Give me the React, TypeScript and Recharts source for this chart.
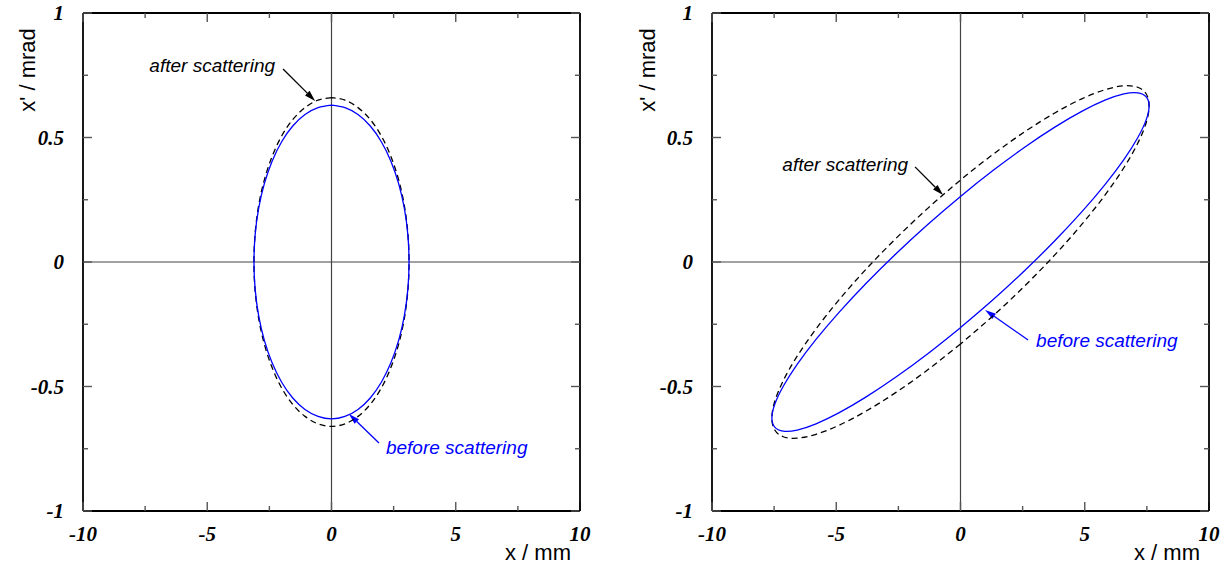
import React from "react";
import { ScatterChart, Scatter, XAxis, YAxis, ReferenceLine } from "recharts";

// axis ticks
const xTicks = [-10, -7.5, -5, -2.5, 0, 2.5, 5, 7.5, 10];
const yTicks = [-1, -0.75, -0.5, -0.25, 0, 0.25, 0.5, 0.75, 1];
const xLabels = [-10, -5, 0, 5, 10];
const yLabels = [-1, -0.5, 0, 0.5, 1];

// left panel: upright ellipse (x in mm, x' in mrad)
const leftX = [
  0, -0.542, -1.067, -1.56, -2.006, -2.39, -2.702, -2.932, -3.073, -3.12, -3.073, -2.932, -2.702,
  -2.39, -2.006, -1.56, -1.067, -0.542, 0, 0.542, 1.067, 1.56, 2.006, 2.39, 2.702, 2.932, 3.073,
  3.12, 3.073, 2.932, 2.702, 2.39, 2.006, 1.56, 1.067, 0.542, 0,
];
const leftBeforeY = [
  0.63, 0.62, 0.592, 0.546, 0.483, 0.405, 0.315, 0.215, 0.109, 0, -0.109, -0.215, -0.315, -0.405,
  -0.483, -0.546, -0.592, -0.62, -0.63, -0.62, -0.592, -0.546, -0.483, -0.405, -0.315, -0.215,
  -0.109, 0, 0.109, 0.215, 0.315, 0.405, 0.483, 0.546, 0.592, 0.62, 0.63,
];
const leftAfterY = [
  0.66, 0.65, 0.62, 0.572, 0.506, 0.424, 0.33, 0.226, 0.115, 0, -0.115, -0.226, -0.33, -0.424,
  -0.506, -0.572, -0.62, -0.65, -0.66, -0.65, -0.62, -0.572, -0.506, -0.424, -0.33, -0.226,
  -0.115, 0, 0.115, 0.226, 0.33, 0.424, 0.506, 0.572, 0.62, 0.65, 0.66,
];

// right panel: tilted ellipse
const rightX = [
  0, -1.318, -2.596, -3.795, -4.879, -5.814, -6.573, -7.132, -7.475, -7.59, -7.475, -7.132,
  -6.573, -5.814, -4.879, -3.795, -2.596, -1.318, 0, 1.318, 2.596, 3.795, 4.879, 5.814, 6.573,
  7.132, 7.475, 7.59, 7.475, 7.132, 6.573, 5.814, 4.879, 3.795, 2.596, 1.318, 0,
];
const rightBeforeY = [
  -0.2635, -0.3683, -0.462, -0.5417, -0.6048, -0.6497, -0.6748, -0.6793, -0.6632, -0.627,
  -0.5717, -0.4991, -0.4113, -0.3109, -0.2012, -0.0853, 0.0332, 0.1507, 0.2635, 0.3683, 0.462,
  0.5417, 0.6048, 0.6497, 0.6748, 0.6793, 0.6632, 0.627, 0.5717, 0.4991, 0.4113, 0.3109, 0.2012,
  0.0853, -0.0332, -0.1507, -0.2635,
];
const rightAfterY = [
  -0.3292, -0.433, -0.5237, -0.5986, -0.6552, -0.6919, -0.7076, -0.7018, -0.6746, -0.627,
  -0.5604, -0.4766, -0.3784, -0.2687, -0.1508, -0.0284, 0.0949, 0.2154, 0.3292, 0.433, 0.5237,
  0.5986, 0.6552, 0.6919, 0.7076, 0.7018, 0.6746, 0.627, 0.5604, 0.4766, 0.3784, 0.2687, 0.1508,
  0.0284, -0.0949, -0.2154, -0.3292,
];

type Note = {
  from: { x: number; y: number };
  to: { x: number; y: number };
  text: string;
  color: string;
  anchor: "start" | "end";
  dx: number;
  dy: number;
};

const leftNotes: Note[] = [
  { from: { x: -1.95, y: 0.775 }, to: { x: -0.66, y: 0.647 }, text: "after scattering", color: "#000", anchor: "end", dx: -8, dy: 3 },
  { from: { x: 1.91, y: -0.727 }, to: { x: 0.7, y: -0.61 }, text: "before scattering", color: "#0000ff", anchor: "start", dx: 7, dy: 11 },
];
const rightNotes: Note[] = [
  { from: { x: -1.83, y: 0.382 }, to: { x: -0.7, y: 0.269 }, text: "after scattering", color: "#000", anchor: "end", dx: -7, dy: 4 },
  { from: { x: 2.72, y: -0.313 }, to: { x: 0.99, y: -0.193 }, text: "before scattering", color: "#0000ff", anchor: "start", dx: 8, dy: 7 },
];

const toPoints = (xs: number[], ys: number[]) => xs.map((x, i) => ({ x, y: ys[i] }));

const CHART_W = 614;
const CHART_H = 569;
const Y_AXIS_W = 60;
const X_AXIS_H = 40;

const tickFont: React.CSSProperties = {
  fontFamily: '"Liberation Serif", "Times New Roman", serif',
  fontWeight: 700,
  fontStyle: "italic",
  fontSize: 21,
};
const sansFont = '"Liberation Sans", Arial, Helvetica, sans-serif';
const tickColor = "#555";
const frameStroke = { stroke: "#000", strokeWidth: 1.8 };

// bottom ticks also mirror themselves on the top edge; the first one draws the top frame line
const makeBottomTick = (plotW: number, plotH: number) => (p: any) => {
  const major = xLabels.includes(p.payload.value);
  const len = major ? 9 : 5;
  const top = p.y - plotH;
  return (
    <g>
      <line x1={p.x} y1={p.y} x2={p.x} y2={p.y - len} stroke={tickColor} strokeWidth={1.4} />
      <line x1={p.x} y1={top} x2={p.x} y2={top + len} stroke={tickColor} strokeWidth={1.4} />
      {p.index === 0 && <line x1={p.x} y1={top} x2={p.x + plotW} y2={top} {...frameStroke} />}
      {major && (
        <text x={p.x} y={p.y + 30} textAnchor="middle" fill="#000" style={tickFont}>
          {p.payload.value}
        </text>
      )}
    </g>
  );
};

// left ticks also mirror themselves on the right edge; the first one draws the right frame line
const makeLeftTick = (plotW: number, plotH: number) => (p: any) => {
  const major = yLabels.includes(p.payload.value);
  const len = major ? 9 : 5;
  const right = p.x + plotW;
  return (
    <g>
      <line x1={p.x} y1={p.y} x2={p.x + len} y2={p.y} stroke={tickColor} strokeWidth={1.4} />
      <line x1={right} y1={p.y} x2={right - len} y2={p.y} stroke={tickColor} strokeWidth={1.4} />
      {p.index === 0 && <line x1={right} y1={p.y} x2={right} y2={p.y - plotH} {...frameStroke} />}
      {major && (
        <text x={p.x - 19} y={p.y + 7} textAnchor="end" fill="#000" style={tickFont}>
          {p.payload.value}
        </text>
      )}
    </g>
  );
};

const arrowShape = (n: Note) => (p: any) => {
  const { x1, y1, x2, y2 } = p;
  const a = Math.atan2(y2 - y1, x2 - x1);
  const L = 11;
  const W = 3.2;
  const bx = x2 - L * Math.cos(a);
  const by = y2 - L * Math.sin(a);
  const px = -Math.sin(a) * W;
  const py = Math.cos(a) * W;
  return (
    <g>
      <line x1={x1} y1={y1} x2={bx} y2={by} stroke={n.color} strokeWidth={1.3} />
      <polygon points={`${x2},${y2} ${bx + px},${by + py} ${bx - px},${by - py}`} fill={n.color} />
      <text x={x1 + n.dx} y={y1 + n.dy} textAnchor={n.anchor} fill={n.color}
        style={{ fontFamily: sansFont, fontStyle: "italic", fontSize: 19 }}>
        {n.text}
      </text>
    </g>
  );
};

type PanelProps = {
  before: { x: number; y: number }[];
  after: { x: number; y: number }[];
  notes: Note[];
  margin: { top: number; right: number; bottom: number; left: number };
  yTitleDx: number;
};

const Panel: React.FC<PanelProps> = ({ before, after, notes, margin, yTitleDx }) => {
  const plotW = CHART_W - margin.left - margin.right - Y_AXIS_W;
  const plotH = CHART_H - margin.top - margin.bottom - X_AXIS_H;
  return (
    <ScatterChart width={CHART_W} height={CHART_H} margin={margin}>
      <XAxis type="number" dataKey="x" domain={[-10, 10]} ticks={xTicks} interval={0}
        tickSize={0} tickMargin={0} tickLine={false} tick={makeBottomTick(plotW, plotH)}
        axisLine={frameStroke} height={X_AXIS_H} allowDataOverflow
        label={{
          content: (lp: any) => {
            const vb = lp.viewBox;
            return (
              <text x={vb.x + vb.width - 9} y={vb.y + 49} textAnchor="end" fill="#000"
                style={{ fontFamily: sansFont, fontSize: 22 }}>
                x / mm
              </text>
            );
          },
        }}
      />
      <YAxis type="number" dataKey="y" domain={[-1, 1]} ticks={yTicks} interval={0} tickSize={0}
        tickMargin={0} tickLine={false} tick={makeLeftTick(plotW, plotH)} axisLine={frameStroke}
        width={Y_AXIS_W} allowDataOverflow
        label={{
          content: (lp: any) => {
            const vb = lp.viewBox;
            const cx = vb.x + vb.width + yTitleDx;
            const cy = vb.y + 57;
            return (
              <text x={cx} y={cy} textAnchor="middle" fill="#000" transform={`rotate(-90 ${cx} ${cy})`}
                style={{ fontFamily: sansFont, fontSize: 22 }}>
                x' / mrad
              </text>
            );
          },
        }}
      />
      <ReferenceLine x={0} stroke="#444" strokeWidth={1.2} ifOverflow="visible" />
      <ReferenceLine y={0} stroke="#444" strokeWidth={1.2} ifOverflow="visible" />
      <Scatter data={after} line={{ stroke: "#000", strokeWidth: 1.3, strokeDasharray: "6 4" }}
        lineJointType="natural" shape={() => <g />} isAnimationActive={false} />
      <Scatter data={before} line={{ stroke: "#0000ff", strokeWidth: 1.3 }}
        lineJointType="natural" shape={() => <g />} isAnimationActive={false} />
      {notes.map((n, i) => (
        <ReferenceLine key={i} ifOverflow="visible" segment={[n.from, n.to]} shape={arrowShape(n)} />
      ))}
    </ScatterChart>
  );
};

export default function App() {
  return (
    <div style={{ position: "absolute", left: 0, top: 0, width: 1228, height: 569, display: "flex", background: "#fff" }}>
      <Panel before={toPoints(leftX, leftBeforeY)} after={toPoints(leftX, leftAfterY)} notes={leftNotes}
        margin={{ top: 13, right: 34, bottom: 18, left: 23 }} yTitleDx={-48} />
      <Panel before={toPoints(rightX, rightBeforeY)} after={toPoints(rightX, rightAfterY)} notes={rightNotes}
        margin={{ top: 13, right: 19, bottom: 18, left: 38 }} yTitleDx={-57} />
    </div>
  );
}
